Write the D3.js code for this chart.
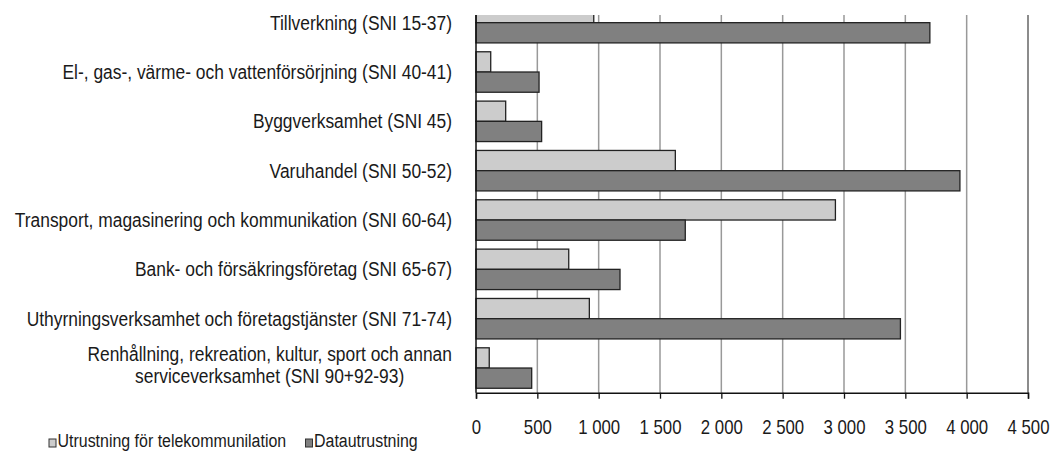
<!DOCTYPE html>
<html>
<head>
<meta charset="utf-8">
<script src="https://cdn.jsdelivr.net/npm/d3@7"></script>
<style>
  html, body { margin: 0; padding: 0; background: #fff; }
  svg { display: block; }
  text { font-family: "Liberation Sans", Arial, sans-serif; fill: #1a1a1a; }
</style>
</head>
<body>
<svg id="chart" width="1051" height="451"></svg>
<script>
// Investments by industry (SNI), two equipment types
const categories = [
  "Tillverkning (SNI 15-37)",
  "El-, gas-, värme- och vattenförsörjning (SNI 40-41)",
  "Byggverksamhet (SNI 45)",
  "Varuhandel (SNI 50-52)",
  "Transport, magasinering och kommunikation (SNI 60-64)",
  "Bank- och försäkringsföretag (SNI 65-67)",
  "Uthyrningsverksamhet och företagstjänster (SNI 71-74)",
  "Renhållning, rekreation, kultur, sport och annan\nserviceverksamhet (SNI 90+92-93)"
];
const seriesNames = ["Utrustning för telekommunilation", "Datautrustning"];
const telecom  = [960, 120, 242, 1625, 2930, 756, 924, 108];
const computer = [3700, 514, 535, 3945, 1706, 1174, 3460, 454];
const tickValues = [0, 500, 1000, 1500, 2000, 2500, 3000, 3500, 4000, 4500];
const tickLabels = ["0", "500", "1 000", "1 500", "2 000", "2 500", "3 000", "3 500", "4 000", "4 500"];

const colors = ["#cccccc", "#808080"];
const svg = d3.select("#chart");

const plot = { left: 476, right: 1028, top: 15, bottom: 392.7, bandTop: -2 };

const x = d3.scaleLinear().domain([0, 4500]).range([plot.left, plot.right]);
const y = d3.scaleBand().domain(categories).range([plot.bandTop, plot.bottom])
  .paddingInner(0.18).paddingOuter(0.09);
const ySub = d3.scaleBand().domain([0, 1]).range([0, y.bandwidth()]);

// clip region of the plotting area
svg.append("defs").append("clipPath").attr("id", "plotClip")
  .append("rect")
  .attr("x", plot.left - 2).attr("y", plot.top)
  .attr("width", plot.right - plot.left + 4).attr("height", plot.bottom - plot.top + 1);

// vertical gridlines
svg.append("g").selectAll("line").data(tickValues.slice(1)).join("line")
  .attr("x1", d => x(d)).attr("x2", d => x(d))
  .attr("y1", plot.top).attr("y2", plot.bottom)
  .attr("stroke", d => d === 4500 ? "#666" : "#999")
  .attr("stroke-width", 1.5);

// bars
const rows = categories.map((c, i) => ({ cat: c, vals: [telecom[i], computer[i]] }));
const barLayer = svg.append("g").attr("clip-path", "url(#plotClip)");
barLayer.selectAll("g").data(rows).join("g")
  .attr("transform", d => `translate(0,${y(d.cat)})`)
  .selectAll("rect").data(d => d.vals.map((v, k) => ({ v, k }))).join("rect")
  .attr("x", x(0))
  .attr("y", d => ySub(d.k))
  .attr("width", d => x(d.v) - x(0))
  .attr("height", ySub.bandwidth())
  .attr("fill", d => colors[d.k])
  .attr("stroke", "#222")
  .attr("stroke-width", 1.3);

// y axis line
svg.append("line")
  .attr("x1", plot.left).attr("x2", plot.left)
  .attr("y1", plot.top).attr("y2", plot.bottom)
  .attr("stroke", "#111").attr("stroke-width", 1.5);

// x axis
const xAxis = d3.axisBottom(x).tickValues(tickValues).tickSize(6)
  .tickFormat((d, i) => tickLabels[i]);
const gx = svg.append("g").attr("transform", `translate(0,${plot.bottom})`).call(xAxis);
gx.select(".domain").attr("stroke", "#111").attr("stroke-width", 1.5);
gx.selectAll(".tick line").attr("stroke", "#111").attr("stroke-width", 1.3);
gx.selectAll(".tick text").remove();
gx.selectAll(".tick").append("text")
  .attr("transform", "translate(0,41) scale(0.84,1)")
  .attr("text-anchor", "middle")
  .attr("font-size", 20)
  .attr("fill", "#1a1a1a")
  .text((d, i) => tickLabels[i]);

// category labels
const catScale = 0.87;
const labelRight = 452;
const catG = svg.append("g");
categories.forEach(c => {
  const lines = c.split("\n");
  const cy = y(c) + y.bandwidth() / 2;
  if (lines.length === 1) {
    catG.append("text")
      .attr("transform", `translate(${labelRight},${cy + 7}) scale(${catScale},1)`)
      .attr("text-anchor", "end").attr("font-size", 20)
      .text(lines[0]);
  } else {
    const lh = 22;
    const g = catG.append("g");
    const ts = lines.map((ln, j) => g.append("text")
      .attr("font-size", 20).attr("text-anchor", "middle")
      .text(ln));
    const w = d3.max(ts, t => t.node().getComputedTextLength()) * catScale;
    const cx = labelRight - w / 2;
    ts.forEach((t, j) => {
      const ly = cy + 7 - 3 + (j - (lines.length - 1) / 2) * lh;
      t.attr("transform", `translate(${cx},${ly}) scale(${catScale},1)`);
    });
  }
});

// legend
const legendItems = [{ x: 49, tx: 57.5 }, { x: 305.5, tx: 314 }];
const lg = svg.append("g");
seriesNames.forEach((name, k) => {
  lg.append("rect")
    .attr("x", legendItems[k].x).attr("y", 439)
    .attr("width", 7).attr("height", 8)
    .attr("fill", colors[k]).attr("stroke", "#333").attr("stroke-width", 1);
  lg.append("text")
    .attr("transform", `translate(${legendItems[k].tx},446.5) scale(0.84,1)`)
    .attr("font-size", 19)
    .text(name);
});
</script>
</body>
</html>
